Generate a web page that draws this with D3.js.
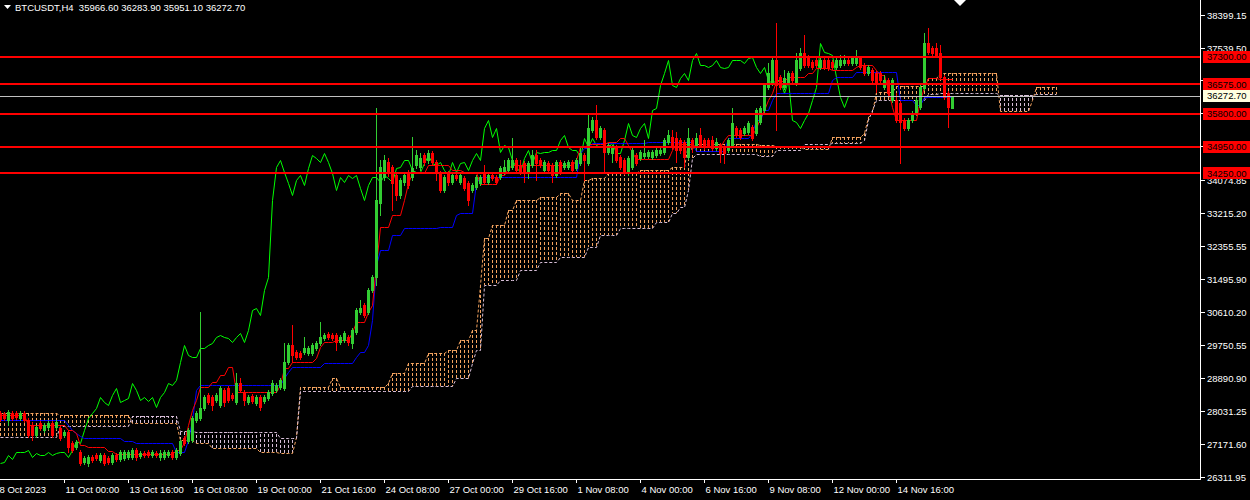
<!DOCTYPE html>
<html><head><meta charset="utf-8">
<script src="https://cdn.jsdelivr.net/npm/d3@7"></script>
<style>
html,body{margin:0;padding:0;background:#000;overflow:hidden}
svg{display:block}
text{font-family:"Liberation Sans",Arial,sans-serif;font-size:9.5px;white-space:pre}
</style></head><body>
<svg id="c" width="1250" height="500"></svg>
<script>
// ---------------- DATA ----------------
const symbolTitle = "BTCUSDT,H4";
const lastQuote = [35966.60, 36283.90, 35951.10, 36272.70]; // O H L C of last bar
// [open, high, low, close] per H4 bar, starting 8 Oct 2023 08:00
const ohlc = [
[27979,28031,27770,27822],[27953,28005,27796,27848],[27796,28057,27665,28005],[27979,28031,27796,27848],
[27979,28031,27822,27874],[27848,28031,27796,27979],[27979,28031,27744,27796],[27796,27848,27351,27403],
[27665,27744,27272,27403],[27403,27665,27351,27613],[27718,27770,27534,27587],[27534,27718,27482,27665],
[27613,27770,27560,27718],[27718,27770,27351,27403],[27613,27796,27560,27744],[27587,27639,27272,27325],
[27403,27534,27351,27482],[27482,27534,26959,27089],[27194,27246,26959,27011],[27089,27272,27037,27220],
[26959,27011,26618,26671],[26697,26854,26644,26802],[26671,26880,26592,26828],[26828,26880,26697,26749],
[26880,26933,26749,26802],[26749,26933,26697,26880],[26880,26933,26618,26671],[26802,26854,26644,26697],
[26697,26933,26644,26880],[26880,26933,26723,26776],[26776,27011,26723,26959],[26802,27011,26749,26959],
[26828,27011,26776,26959],[26828,27063,26776,27011],[27011,27063,26749,26828],[26854,26985,26802,26933],
[26933,26985,26828,26880],[26959,27011,26828,26880],[26880,27011,26828,26959],[26933,26985,26828,26880],
[26828,27011,26749,26933],[26828,27011,26776,26959],[26880,27011,26828,26959],[26959,27011,26776,26828],
[26828,27063,26776,27011],[26933,27298,26880,27246],[27325,27377,27142,27194],[27246,27587,27194,27534],
[27272,27900,27220,27848],[27796,28031,27744,27979],[27848,30621,27796,28110],[28110,28450,28057,28398],
[28450,28502,28214,28267],[28398,28450,28057,28188],[28319,28502,28267,28450],[28188,28685,28136,28632],
[28580,28632,28162,28267],[28632,28685,28267,28319],[28450,28502,28319,28371],[28267,29025,28214,28764],
[28764,28894,28528,28580],[28528,28580,28188,28319],[28267,28450,28214,28398],[28423,28476,28240,28293],
[28240,28450,28188,28398],[28398,28450,28057,28136],[28293,28450,28240,28398],[28371,28580,28319,28528],
[28502,28842,28450,28764],[28580,28764,28528,28711],[28659,28894,28606,28842],[28632,29810,28580,29313],
[29313,29810,29261,29758],[29758,30281,29313,29496],[29575,29627,29391,29444],[29549,29601,29391,29444],
[29575,29967,29522,29679],[29549,29732,29496,29679],[29549,29810,29496,29758],[29679,29863,29627,29810],
[29810,30360,29758,29967],[29941,30072,29889,30019],[30045,30098,29915,29967],[30019,30072,29889,29941],
[30019,30072,29627,29837],[29837,30019,29784,29967],[29889,30124,29837,30072],[29967,30019,29758,29837],
[29810,30202,29679,30150],[30098,30726,30045,30673],[30621,30935,30568,30726],[30804,30857,30490,30542],
[30621,31249,30568,31197],[31197,31589,31144,31537],[31537,35958,31327,33551],[33473,34598,33159,34414],
[34153,34729,34075,34598],[34546,34650,34179,34284],[34414,34467,33290,33997],[34205,34257,33551,33682],
[33682,34127,33603,34075],[34023,34257,33944,34205],[34257,34336,33865,33944],[34153,35200,34075,34389],
[34467,34860,34389,34729],[34414,34781,34336,34650],[34729,34781,34467,34546],[34598,34860,34520,34781],
[34781,34834,34467,34546],[34546,34598,34075,34257],[34257,34310,33761,33813],[33813,34205,33761,34153],
[34257,34310,33944,34023],[34023,34257,33970,34205],[34205,34257,34075,34127],[34023,34257,33970,34205],
[34127,34179,33813,33865],[33997,34049,33420,33551],[33813,33997,33761,33944],[33892,34205,33839,34153],
[33997,34205,33944,34153],[34257,34467,33970,34023],[34023,34257,33970,34205],[34205,34257,34075,34127],
[34153,34205,33970,34023],[34153,34441,34101,34389],[34284,34598,34231,34414],[34336,34650,34284,34598],
[34414,35174,34362,34598],[34598,34650,34284,34336],[34467,34598,34231,34284],[34520,34572,34023,34284],
[34284,34572,34127,34520],[34467,34860,34414,34729],[34729,34860,34075,34520],[34598,34650,34414,34467],
[34336,34598,34284,34546],[34520,34572,34284,34336],[34467,34520,34023,34205],[34205,34598,34153,34546],
[34546,34598,34231,34284],[34414,34572,34362,34520],[34414,34598,34362,34546],[34546,34598,34284,34336],
[34389,34650,34336,34598],[34520,34938,34467,34781],[34729,34781,34075,34598],[34520,35775,34467,35435],
[35383,35722,35330,35644],[35644,36037,35147,35200],[35200,35487,35147,35435],[35383,35435,34257,34808],
[34808,35043,34755,34990],[34781,34990,34546,34938],[34938,34990,34546,34598],[34676,34729,34362,34414],
[34598,34650,34231,34284],[34284,34702,34205,34650],[34414,34912,34362,34860],[34729,34781,34467,34520],
[34650,34860,34598,34808],[34702,35121,34650,34781],[34702,34860,34650,34808],[34676,34860,34624,34808],
[34729,34912,34676,34860],[34781,34912,34729,34860],[34808,35174,34755,35121],[35069,35383,35017,35252],
[35200,35383,34886,34938],[35174,35330,34546,34860],[35121,35174,34781,34860],[35069,35121,34414,34676],
[34676,35435,34624,35174],[35121,35174,34808,34938],[34938,35304,34886,35174],[35252,35435,34938,34990],
[35121,35174,34886,34938],[35121,35174,34938,34990],[35121,35226,34860,34912],[34912,35174,34860,35069],
[34990,35043,34546,34781],[34938,34990,34520,34781],[34860,35174,34808,35121],[34990,35958,34938,35566],
[35435,35487,35200,35252],[35383,35435,35147,35200],[35304,35487,35252,35435],[35330,35618,35278,35566],
[35461,35513,35121,35174],[35304,35958,35252,35906],[35592,36010,35540,35958],[35906,36612,35854,36560],
[36508,37136,36456,36874],[36612,37266,36560,37214],[37214,38182,35383,36560],[36769,36822,36456,36508],
[36508,36953,36456,36743],[36638,36927,36586,36874],[36874,36927,36638,36691],[36612,37397,36560,37214],
[37005,37528,36953,37397],[37397,37868,37031,37083],[37293,37345,37031,37083],[37162,37214,36979,37031],
[37214,37266,37031,37083],[37031,37266,36979,37214],[37214,37293,36979,37031],[37214,37266,36953,37005],
[37162,37214,36979,37031],[37031,37266,36979,37214],[37083,37345,37031,37214],[37136,37345,37083,37214],
[37214,37266,37083,37136],[37136,37319,37083,37266],[37136,37476,37083,37293],[37266,37319,36979,37031],
[37083,37136,36822,36874],[36874,37083,36822,37031],[36953,37005,36638,36691],[36874,36927,36377,36612],
[36874,36927,36638,36691],[36508,36822,36456,36691],[36691,36743,36298,36351],[36168,36743,36115,36691],
[36168,36351,35592,35644],[36089,36141,34520,35592],[35644,35696,35383,35435],[35435,35696,35383,35644],
[35644,35880,35592,35827],[35827,36220,35775,36168],[35985,36560,35932,36508],[36482,37921,36429,37659],
[37659,38051,37371,37423],[37528,37581,37345,37397],[37528,37659,37293,37345],[37397,37606,36717,36769],
[36769,36822,36194,36246],[36351,36403,35461,35985],[35966.6,36283.9,35951.1,36272.7]
];
// Ichimoku lines as [first bar, value] runs
const tenkanSteps = [[0,27926],[7,27665],[17,27534],[19,27456],[20,27142],[22,27089],[27,26985],[29,26906],[44,27011],[46,27220],[47,27665],[48,28057],[49,28319],[50,28659],[53,28790],[55,28973],[57,29182],[59,28528],[70,28711],[71,29156],[73,29313],[79,29418],[80,29706],[81,29837],[84,29889],[88,30098],[89,30360],[92,30621],[93,30804],[94,31851],[95,32844],[98,33159],[101,33551],[102,33997],[103,34257],[107,34467],[113,34336],[116,34284],[120,33970],[125,34205],[127,34389],[128,34467],[144,34598],[145,34938],[147,35017],[152,35069],[155,35174],[157,34990],[158,34808],[159,34624],[168,34860],[169,35043],[170,35017],[174,34938],[181,35121],[182,35252],[189,35435],[190,35696],[191,35906],[192,36168],[193,36351],[194,36665],[197,36769],[202,36874],[204,37005],[208,36953],[214,37031],[215,37083],[219,36953],[220,36822],[222,36429],[223,35985],[224,35644],[230,36168],[231,36508],[232,36743],[235,36717]];
const kijunSteps = [[0,27796],[17,27665],[18,27534],[19,27456],[20,27377],[21,27325],[31,27246],[34,27194],[44,26959],[47,27272],[48,27796],[49,28580],[50,28711],[71,28894],[72,29052],[73,29182],[81,29287],[89,29444],[90,29575],[92,29758],[93,30412],[94,31851],[95,32243],[98,32636],[101,32819],[110,32845],[114,33159],[115,33211],[119,33997],[120,34153],[145,34781],[146,34912],[148,35043],[162,35069],[174,34834],[182,35174],[188,35304],[189,35644],[191,35906],[193,36168],[194,36351],[208,36691],[209,36769],[214,36900],[225,36168],[229,36037],[231,36246]];
const senkouASteps = [[0,27979],[15,27926],[33,27718],[45,27272],[49,27194],[53,27063],[65,26959],[70,26933],[74,27351],[75,28659],[83,28894],[85,28659],[97,28764],[98,29025],[102,29287],[107,29549],[112,29627],[115,29889],[118,30150],[120,31327],[121,32557],[123,32897],[127,33290],[129,33551],[135,33630],[140,33735],[143,33551],[146,34075],[148,34127],[152,34257],[160,34336],[168,34414],[172,35043],[173,34860],[174,35017],[190,34990],[194,34964],[201,34886],[208,35200],[216,35304],[217,35722],[218,35853],[219,36377],[224,36534],[232,36743],[235,36874],[250,35880],[258,36168],[259,36508]];
const senkouBSteps = [[0,27351],[15,27639],[33,27900],[45,27508],[49,27482],[70,27325],[75,28554],[103,28685],[114,28894],[118,29287],[119,29627],[121,31327],[125,31458],[130,31720],[135,31930],[140,32061],[147,32322],[150,32636],[155,32819],[164,32976],[168,33211],[170,33368],[172,33813],[173,34650],[174,34755],[190,34703],[194,34860],[201,35017],[208,35043],[216,35121],[217,35644],[218,35906],[219,36168],[232,36325],[235,36351],[250,36298],[259,36325]];
const chikouShift = 26;
const cloudLastBar = 264;
const levelLines = [37300, 36575, 35800, 34950, 34250];
const priceTicks = [38399.15, 37539.50, 36679.85, 35820.20, 34960.55, 34074.85, 33215.20, 32355.55, 31495.90, 30610.20, 29750.55, 28890.90, 28031.25, 27171.60, 26311.95];
const timeTickBars = [-0.5, 16, 32, 48, 64, 80, 96, 112, 128, 144, 160, 176, 192, 208, 224];
const timeTickLabels = ["8 Oct 2023","11 Oct 00:00","13 Oct 16:00","16 Oct 08:00","19 Oct 00:00","21 Oct 16:00","24 Oct 08:00","27 Oct 00:00","29 Oct 16:00","1 Nov 08:00","4 Nov 00:00","6 Nov 16:00","9 Nov 08:00","12 Nov 00:00","14 Nov 16:00"];

// ---------------- DRAW ----------------
const PW = 1200, PH = 479;
const svg = d3.select("#c");
const x = d3.scaleLinear().domain([0, 300]).range([0, PW]);
const y = d3.scaleLinear().domain([26251.8, 38784]).range([PH, 0]);

function expand(steps, last) {
  const out = []; let k = 0;
  for (let i = 0; i <= last; i++) {
    while (k + 1 < steps.length && steps[k + 1][0] <= i) k++;
    out.push(steps[k][1]);
  }
  return out;
}
const lastBar = ohlc.length - 1;
const tenkan = expand(tenkanSteps, lastBar);
const kijun = expand(kijunSteps, lastBar);
const spanA = expand(senkouASteps, cloudLastBar);
const spanB = expand(senkouBSteps, cloudLastBar);
const closes = ohlc.map(d => d[3]);

svg.append("defs").append("clipPath").attr("id", "plot")
  .append("rect").attr("x", 0).attr("y", 0).attr("width", PW).attr("height", PH);
const g = svg.append("g").attr("clip-path", "url(#plot)");

const SANDY = "#F4A460", THISTLE = "#D8BFD8";
// cloud hatching
g.append("g").selectAll("line").data(spanA).join("line")
  .attr("x1", (d, i) => Math.round(x(i)) + 0.5).attr("x2", (d, i) => Math.round(x(i)) + 0.5)
  .attr("y1", d => y(d)).attr("y2", (d, i) => y(spanB[i]))
  .attr("stroke", (d, i) => d >= spanB[i] ? SANDY : THISTLE)
  .attr("stroke-width", 1).attr("stroke-dasharray", "3,2");
const line = d3.line().x((d, i) => Math.round(x(i)) + 0.5).y(d => Math.round(y(d)) + 0.5);
g.append("path").attr("d", line(spanA)).attr("fill", "none").attr("stroke", SANDY).attr("stroke-dasharray", "3,2");
g.append("path").attr("d", line(spanB)).attr("fill", "none").attr("stroke", THISTLE).attr("stroke-dasharray", "3,2");

// chikou
const chikou = closes.slice(chikouShift);
g.append("path").attr("d", line(chikou)).attr("fill", "none").attr("stroke", "#00FF00").attr("stroke-width", 1);
// kijun & tenkan
g.append("path").attr("d", line(kijun)).attr("fill", "none").attr("stroke", "#0000FF").attr("stroke-width", 1);
g.append("path").attr("d", line(tenkan)).attr("fill", "none").attr("stroke", "#FF0000").attr("stroke-width", 1);

// candles
const BULL = "#32CD32", BEAR = "#FF0000";
const cg = g.append("g");
ohlc.forEach((d, i) => {
  const [o, h, l, c] = d;
  const col = c >= o ? BULL : BEAR;
  const cx = Math.round(x(i));
  cg.append("line").attr("x1", cx + 0.5).attr("x2", cx + 0.5)
    .attr("y1", Math.round(y(h))).attr("y2", Math.round(y(l)) + 1).attr("stroke", col);
  const top = Math.round(y(Math.max(o, c))), bot = Math.round(y(Math.min(o, c)));
  cg.append("rect").attr("x", cx - 1).attr("width", 3).attr("y", top)
    .attr("height", Math.max(1, bot - top + 1)).attr("fill", col);
});

// horizontal level lines
g.append("g").selectAll("line").data(levelLines).join("line")
  .attr("x1", 0).attr("x2", PW).attr("y1", d => Math.round(y(d))).attr("y2", d => Math.round(y(d)))
  .attr("stroke", "#FF0000").attr("stroke-width", 2);
// current price line
g.append("line").attr("x1", 0).attr("x2", PW)
  .attr("y1", Math.round(y(lastQuote[3])) + 0.5).attr("y2", Math.round(y(lastQuote[3])) + 0.5)
  .attr("stroke", "#C0C0C0").attr("stroke-width", 1);

// axes frame
svg.append("line").attr("x1", PW + 0.5).attr("x2", PW + 0.5).attr("y1", 0).attr("y2", PH + 1).attr("stroke", "#fff");
svg.append("line").attr("x1", 0).attr("x2", PW + 1).attr("y1", PH + 0.5).attr("y2", PH + 0.5).attr("stroke", "#fff");

// price axis
const ya = svg.append("g");
priceTicks.forEach(p => {
  const yy = Math.round(y(p)) + 0.5;
  ya.append("line").attr("x1", PW + 1).attr("x2", PW + 5).attr("y1", yy).attr("y2", yy).attr("stroke", "#fff");
  ya.append("text").attr("x", PW + 7).attr("y", yy).attr("dy", "0.35em").attr("fill", "#fff").text(p.toFixed(2));
});
// level labels
levelLines.forEach(p => {
  const yy = y(p);
  ya.append("rect").attr("x", PW + 3).attr("y", Math.round(yy) - 6).attr("width", 47).attr("height", 12).attr("fill", "#FF0000");
  ya.append("text").attr("x", PW + 7).attr("y", yy).attr("dy", "0.35em").attr("fill", "#000").text(p.toFixed(2));
});
{
  const yy = y(lastQuote[3]);
  ya.append("rect").attr("x", PW + 3).attr("y", Math.round(yy) - 6).attr("width", 47).attr("height", 12).attr("fill", "#FFFFE0");
  ya.append("text").attr("x", PW + 7).attr("y", yy).attr("dy", "0.35em").attr("fill", "#000").text(lastQuote[3].toFixed(2));
}

// time axis
const xa = svg.append("g");
timeTickBars.forEach((b, k) => {
  const xx = Math.round(x(b)) + 0.5;
  xa.append("line").attr("x1", xx).attr("x2", xx).attr("y1", PH).attr("y2", PH + 4).attr("stroke", "#fff");
  xa.append("text").attr("x", xx + 1).attr("y", PH + 14).attr("fill", "#fff").text(timeTickLabels[k]);
});

// header
svg.append("path").attr("d", "M4,5 L11,5 L7.5,9 Z").attr("fill", "#fff");
svg.append("text").attr("x", 15).attr("y", 11).attr("fill", "#fff")
  .text(symbolTitle + "  " + lastQuote.map(v => v.toFixed(2)).join(" "));
// shift marker
svg.append("path").attr("d", "M954,0 L966,0 L960,6 Z").attr("fill", "#fff");
</script>
</body></html>
